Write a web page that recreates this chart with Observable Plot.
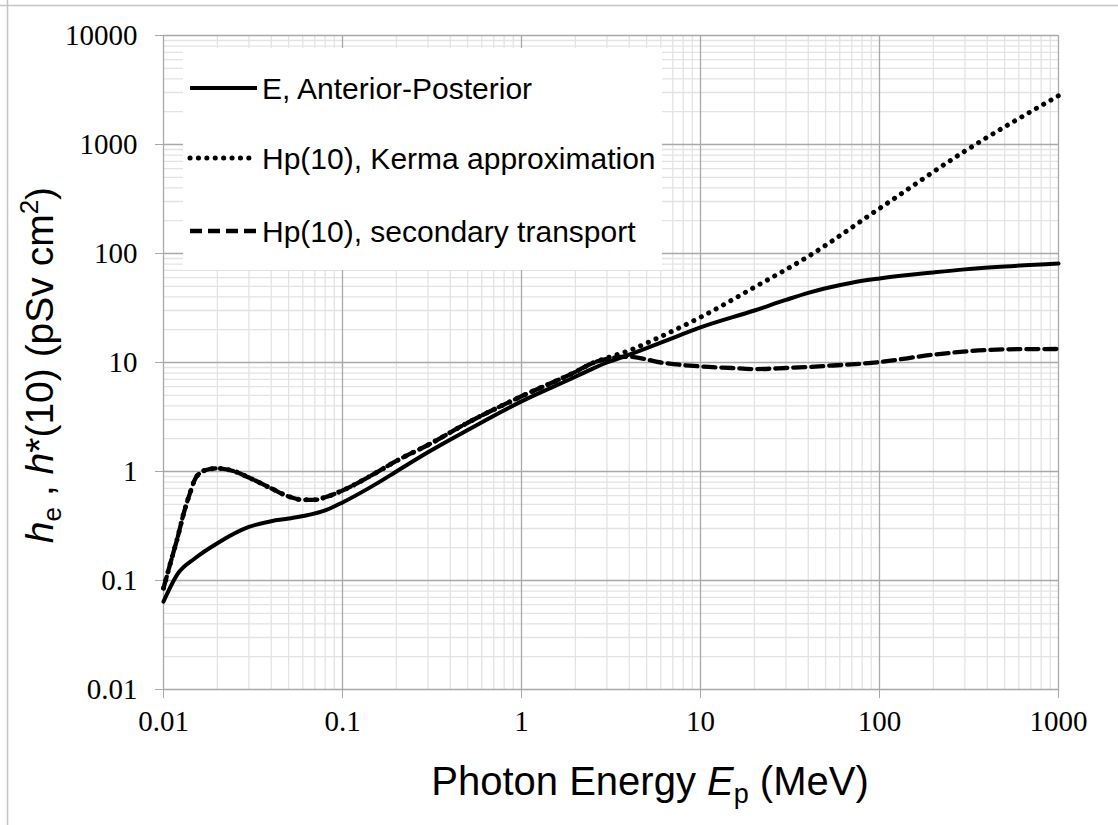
<!DOCTYPE html>
<html><head><meta charset="utf-8">
<script src="https://cdn.jsdelivr.net/npm/d3@7"></script>
<script src="https://cdn.jsdelivr.net/npm/@observablehq/plot@0.6"></script>
<style>
body{margin:0;background:#fff}
#chart{position:relative;width:1118px;height:825px;overflow:hidden}
</style>
</head><body><div id="chart"></div>
<script>
// Tick values and labels
const xTicks = [0.01, 0.1, 1, 10, 100, 1000];
const xTickLabels = ["0.01", "0.1", "1", "10", "100", "1000"];
const yTicks = [0.01, 0.1, 1, 10, 100, 1000, 10000];
const yTickLabels = ["0.01", "0.1", "1", "10", "100", "1000", "10000"];
const minorMultipliers = [2, 3, 4, 5, 6, 7, 8, 9];

// Series names (legend)
const seriesNames = ["E, Anterior-Posterior", "Hp(10), Kerma approximation", "Hp(10), secondary transport"];

// E, Anterior-Posterior (solid)
const energyE = [0.01, 0.012, 0.015, 0.02, 0.03, 0.04, 0.05, 0.06, 0.08, 0.1, 0.15, 0.2, 0.3, 0.5, 1, 2, 2.5, 3, 4, 6, 10, 20, 30, 40, 50, 70, 100, 200, 300, 500, 1000];
const valueE  = [0.064, 0.115, 0.16, 0.22, 0.31, 0.35, 0.37, 0.39, 0.44, 0.52, 0.75, 1.0, 1.5, 2.4, 4.4, 7.4, 8.8, 10, 11.8, 15.2, 21, 30, 37.5, 43.5, 48, 54, 59, 67, 71.5, 76, 81];

// Hp(10), secondary transport (dashed)
const energyS = [0.01, 0.011, 0.012, 0.013, 0.014, 0.015, 0.016, 0.018, 0.02, 0.025, 0.03, 0.04, 0.05, 0.06, 0.07, 0.08, 0.1, 0.15, 0.2, 0.3, 0.5, 1, 2, 2.5, 3, 4, 6, 10, 15, 20, 30, 50, 100, 200, 500, 1000];
const valueS  = [0.085, 0.15, 0.25, 0.42, 0.62, 0.85, 0.97, 1.05, 1.07, 1.0, 0.88, 0.70, 0.59, 0.55, 0.55, 0.58, 0.67, 0.95, 1.25, 1.75, 2.8, 4.9, 8.2, 9.9, 10.8, 11.3, 10.0, 9.2, 8.9, 8.7, 8.9, 9.3, 10.1, 11.8, 13.2, 13.3];

// Hp(10), Kerma approximation (dotted)
const energyK = [0.01, 0.011, 0.012, 0.013, 0.014, 0.015, 0.016, 0.018, 0.02, 0.025, 0.03, 0.04, 0.05, 0.06, 0.07, 0.08, 0.1, 0.15, 0.2, 0.3, 0.5, 1, 2, 2.5, 3, 4, 6, 10, 20, 40, 100, 300, 1000];
const valueK  = [0.085, 0.15, 0.25, 0.42, 0.62, 0.85, 0.97, 1.05, 1.07, 1.0, 0.88, 0.70, 0.59, 0.55, 0.55, 0.58, 0.67, 0.95, 1.25, 1.75, 2.8, 4.9, 8.2, 9.9, 11, 12.9, 17.3, 26, 49, 94, 259, 870, 2800];

const toRows = (xs, ys) => xs.map((x, i) => ({x, y: ys[i]}));
const rowsE = toRows(energyE, valueE);
const rowsS = toRows(energyS, valueS);
const rowsK = toRows(energyK, valueK);

const minorX = xTicks.slice(0, -1).flatMap(d => minorMultipliers.map(k => +(k * d).toPrecision(3)));
const minorY = yTicks.slice(0, -1).flatMap(d => minorMultipliers.map(k => +(k * d).toPrecision(3)));

const majorColor = "#a9a9a9";
const minorColor = "#e3e3e3";
const dotDash = "0.1 8.3";
const dashDash = "12 6";

const plot = Plot.plot({
  width: 1118,
  height: 825,
  marginLeft: 163,
  marginRight: 60,
  marginTop: 35,
  marginBottom: 136,
  style: {fontFamily: "'Liberation Serif', 'Times New Roman', serif", fontSize: "29px", background: "#fff", color: "#000", overflow: "visible"},
  x: {type: "log", domain: [0.01, 1000]},
  y: {type: "log", domain: [0.01, 10000]},
  marks: [
    Plot.gridX(minorX, {stroke: minorColor, strokeOpacity: 1, strokeWidth: 1.3}),
    Plot.gridY(minorY, {stroke: minorColor, strokeOpacity: 1, strokeWidth: 1.3}),
    Plot.gridX(xTicks, {stroke: majorColor, strokeOpacity: 1, strokeWidth: 1.3}),
    Plot.gridY(yTicks, {stroke: majorColor, strokeOpacity: 1, strokeWidth: 1.3}),
    Plot.axisX(xTicks, {tickSize: 9, tickPadding: 12, stroke: majorColor, fill: "#000", fontSize: 29, label: null,
      tickFormat: d => xTickLabels[xTicks.indexOf(d)]}),
    Plot.axisY(yTicks, {tickSize: 8, tickPadding: 18, stroke: majorColor, fill: "#000", fontSize: 29, label: null,
      tickFormat: d => yTickLabels[yTicks.indexOf(d)]}),
    Plot.line(rowsK, {x: "x", y: "y", stroke: "#000", strokeWidth: 5, strokeDasharray: dotDash, strokeLinecap: "round", curve: "monotone-x"}),
    Plot.line(rowsS, {x: "x", y: "y", stroke: "#000", strokeWidth: 4.3, strokeDasharray: dashDash, curve: "monotone-x"}),
    Plot.line(rowsE, {x: "x", y: "y", stroke: "#000", strokeWidth: 4, curve: "monotone-x"})
  ]
});

document.getElementById("chart").appendChild(plot);
const svg = d3.select(plot);

// outer border (top and left)
svg.append("line").attr("x1", 0).attr("x2", 1118).attr("y1", 5.5).attr("y2", 5.5).attr("stroke", "#c4c4c4").attr("stroke-width", 1.5);
svg.append("line").attr("x1", 7.5).attr("x2", 7.5).attr("y1", 0).attr("y2", 825).attr("stroke", "#c4c4c4").attr("stroke-width", 1.5);

// legend box (inserted before the data lines so curves stay on top)
const firstLine = plot.querySelector("g[aria-label='line']");
const legend = d3.create("svg:g").attr("font-family", "'Liberation Sans', Arial, sans-serif").attr("font-size", 30).attr("text-anchor", "start");
legend.append("rect").attr("x", 183).attr("y", 48).attr("width", 479).attr("height", 222).attr("fill", "#fff");
const styles = [
  {dash: null, cap: "butt", w: 4},
  {dash: dotDash, cap: "round", w: 5},
  {dash: dashDash, cap: "butt", w: 4.3}
];
const rowY = [88, 158, 231];
seriesNames.forEach((name, i) => {
  const st = styles[i];
  const l = legend.append("line").attr("x1", 190).attr("x2", 257).attr("y1", rowY[i]).attr("y2", rowY[i])
    .attr("stroke", "#000").attr("stroke-width", st.w).attr("stroke-linecap", st.cap);
  if (st.dash) l.attr("stroke-dasharray", st.dash);
  legend.append("text").attr("x", 262).attr("y", rowY[i]).attr("dy", "0.36em").attr("text-anchor", "start").attr("fill", "#000").text(name);
});
plot.insertBefore(legend.node(), firstLine);

// x axis title
const xt = svg.append("text").attr("x", 650).attr("y", 795).attr("text-anchor", "middle")
  .attr("font-family", "'Liberation Sans', Arial, sans-serif").attr("font-size", 40).attr("fill", "#000");
xt.append("tspan").text("Photon Energy ");
xt.append("tspan").attr("font-style", "italic").text("E");
xt.append("tspan").attr("font-size", 27).attr("dy", 8).text("p");
xt.append("tspan").attr("dy", -8).text(" (MeV)");

// y axis title
const yt = svg.append("text").attr("transform", "translate(53,365) rotate(-90)").attr("text-anchor", "middle")
  .attr("font-family", "'Liberation Sans', Arial, sans-serif").attr("font-size", 39).attr("fill", "#000");
yt.append("tspan").attr("font-style", "italic").text("h");
yt.append("tspan").attr("font-size", 26).attr("dy", 8).text("e");
yt.append("tspan").attr("dy", -8).text(" , ");
yt.append("tspan").attr("font-style", "italic").text("h");
yt.append("tspan").text("*(10) (pSv cm");
yt.append("tspan").attr("font-size", 26).attr("dy", -15).text("2");
yt.append("tspan").attr("dy", 15).text(")");
</script>
</body></html>
